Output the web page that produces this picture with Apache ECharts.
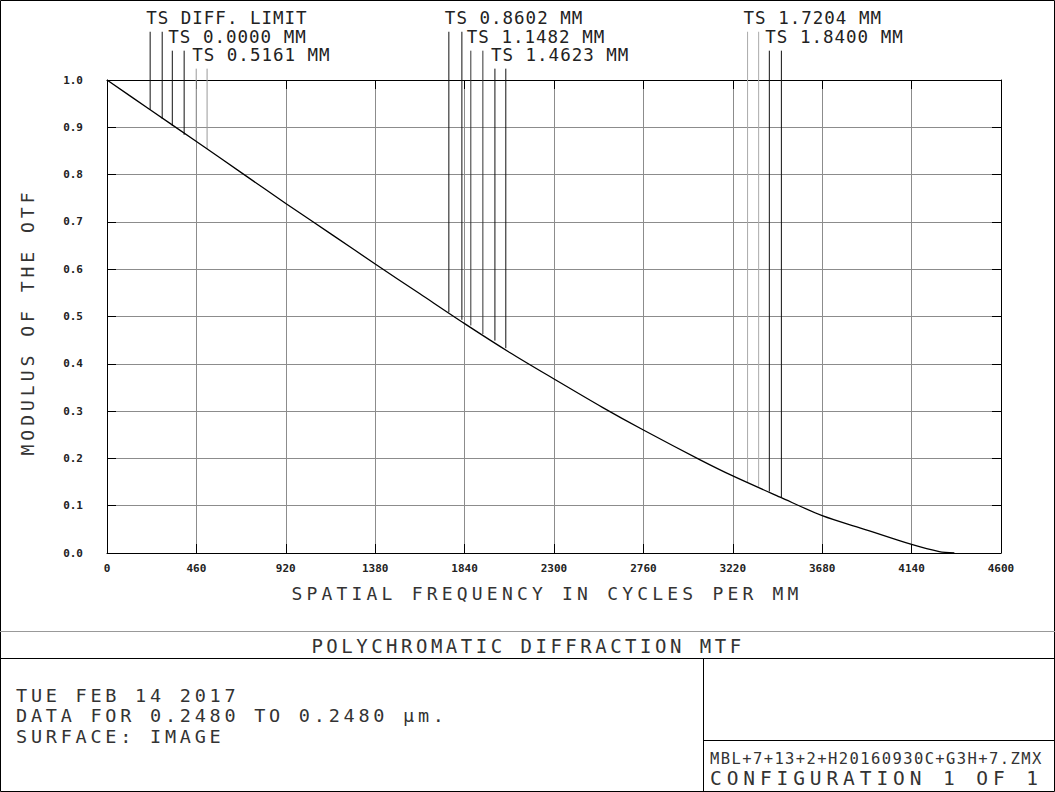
<!DOCTYPE html>
<html>
<head>
<meta charset="utf-8">
<script src="https://cdn.jsdelivr.net/npm/echarts@6/dist/echarts.min.js"></script>
<style>
html, body { margin: 0; padding: 0; background: #fff; }
#chart { width: 1055px; height: 792px; }
</style>
</head>
<body>
<div id="chart"></div>
<script>
// ---- data ----
const freq = [0, 222, 460, 702, 920, 1165, 1380, 1610, 1840, 2072, 2300, 2549, 2760, 3052, 3220, 3464, 3680, 3906, 4140, 4282, 4360];
const mtf  = [1.000, 0.937, 0.870, 0.801, 0.739, 0.671, 0.611, 0.548, 0.485, 0.424, 0.368, 0.308, 0.260, 0.197, 0.163, 0.118, 0.079, 0.049, 0.018, 0.003, 0.000];

const fieldLabels = ['TS DIFF. LIMIT', 'TS 0.0000 MM', 'TS 0.5161 MM', 'TS 0.8602 MM', 'TS 1.1482 MM', 'TS 1.4623 MM', 'TS 1.7204 MM', 'TS 1.8400 MM'];
const fieldX    = [[222, 284], [336, 397], [459, 515], [1759, 1826], [1872, 1934], [1996, 2052], [3296, 3353], [3408, 3470]];
const fieldTop  = [1.102, 1.062, 1.024, 1.102, 1.062, 1.024, 1.102, 1.062];
const fieldEnd  = [[0.937, 0.918], [0.903, 0.884], [0.870, 0.854], [0.509, 0.493], [0.481, 0.463], [0.449, 0.433], [0.149, 0.140], [0.130, 0.118]];
const fieldColor = ['#111', '#111', '#999', '#111', '#333', '#111', '#aaa', '#111'];

const xMin = 0, xMax = 4600, xStep = 460;
const yMin = 0, yMax = 1, yStep = 0.1;

const title = 'POLYCHROMATIC DIFFRACTION MTF';
const xTitle = 'SPATIAL FREQUENCY IN CYCLES PER MM';
const yTitle = 'MODULUS OF THE OTF';
const infoLines = ['TUE FEB 14 2017', 'DATA FOR 0.2480 TO 0.2480 \u00b5m.', 'SURFACE: IMAGE'];
const fileName = 'MBL+7+13+2+H20160930C+G3H+7.ZMX';
const configText = 'CONFIGURATION 1 OF 1';

// ---- rendering ----
const FONT = '"DejaVu Sans Mono", monospace';
const dom = document.getElementById('chart');
const chart = echarts.init(dom, null, { renderer: 'svg', width: 1055, height: 792 });

const curveData = freq.map((f, i) => [f, mtf[i]]);
const series = [{
  type: 'line', data: curveData, showSymbol: false, smooth: 0.3, z: 5,
  lineStyle: { color: '#000', width: 1.3 }, silent: true
}];
fieldX.forEach((pair, i) => {
  pair.forEach((x, k) => {
    series.push({
      type: 'line', clip: false, showSymbol: false, silent: true, z: 4,
      data: [[x, fieldTop[i]], [x, fieldEnd[i][k]]],
      lineStyle: { color: fieldColor[i], width: 1 }
    });
  });
});

const tickStyle = { show: true, inside: true, length: 9, lineStyle: { color: '#000', width: 1 } };
const axisLine = { show: true, onZero: false, lineStyle: { color: '#000', width: 1 } };
const split = { show: true, lineStyle: { color: '#8c8c8c', width: 1 } };
const tickLabel = { color: '#222', fontFamily: FONT, fontWeight: 'bold', fontSize: 11 };

const option = {
  animation: false,
  backgroundColor: '#fff',
  grid: { left: 107, top: 80, width: 894, height: 473, containLabel: false },
  xAxis: [
    { type: 'value', min: xMin, max: xMax, interval: xStep, position: 'bottom',
      axisLine, axisTick: tickStyle, splitLine: split,
      axisLabel: Object.assign({ margin: 10, showMinLabel: true, showMaxLabel: true, formatter: v => String(Math.round(v)) }, tickLabel) },
    { type: 'value', min: xMin, max: xMax, interval: xStep, position: 'top',
      axisLine, axisTick: tickStyle, splitLine: { show: false }, axisLabel: { show: false } }
  ],
  yAxis: [
    { type: 'value', min: yMin, max: yMax, interval: yStep, position: 'left',
      axisLine, axisTick: tickStyle, splitLine: split,
      axisLabel: Object.assign({ margin: 24, formatter: v => v.toFixed(1) }, tickLabel) },
    { type: 'value', min: yMin, max: yMax, interval: yStep, position: 'right',
      axisLine, axisTick: tickStyle, splitLine: { show: false }, axisLabel: { show: false } }
  ],
  series
};
chart.setOption(option);

// spacing to mimic the wide plotter font
const spacing = {};
spacing[title] = 3.5;
spacing[xTitle] = 4.2;
spacing[yTitle] = 4.0;
infoLines.forEach(t => spacing[t] = 3.75);
spacing[fileName] = 1.4;
spacing[configText] = 4.9;
fieldLabels.forEach(t => spacing[t] = 1.0);

function txt(text, x, y, size, opts) {
  return Object.assign({
    type: 'text', x, y, silent: true,
    style: { text, fill: '#333', font: size + 'px ' + FONT, textAlign: 'left', textVerticalAlign: 'middle' }
  }, opts || {});
}
function line(x1, y1, x2, y2, color) {
  return { type: 'line', silent: true, shape: { x1, y1, x2, y2 }, style: { stroke: color, lineWidth: 1 } };
}

const graphics = [
  { type: 'rect', silent: true, shape: { x: 0.5, y: 0.5, width: 1054, height: 791 }, style: { fill: null, stroke: '#000', lineWidth: 1 } },
  line(0, 631.5, 1055, 631.5, '#999'),
  line(0, 658.5, 1055, 658.5, '#000'),
  line(703.5, 658.5, 703.5, 792, '#000'),
  line(703.5, 740.5, 1055, 740.5, '#000'),
  txt(title, 528, 646, 19),
  txt(xTitle, 547, 593, 18),
  Object.assign(txt(yTitle, 27, 322, 18), { rotation: Math.PI / 2 }),
  txt(infoLines[0], 16, 695, 18.5),
  txt(infoLines[1], 16, 715.5, 18.5),
  txt(infoLines[2], 16, 736, 18.5),
  txt(fileName, 710, 758.5, 15.5),
  txt(configText, 710, 778, 19.5)
];
graphics[5].style.textAlign = 'center';
graphics[6].style.textAlign = 'center';
graphics[7].style.textAlign = 'center';

fieldLabels.forEach((lab, i) => {
  const px = chart.convertToPixel({ xAxisIndex: 0 }, fieldX[i][0]);
  const py = chart.convertToPixel({ yAxisIndex: 0 }, fieldTop[i]);
  const g = txt(lab, px - 4, py - 14, 17.5);
  g.style.fill = '#222';
  graphics.push(g);
});

chart.setOption({ graphic: graphics });

function applySpacing() {
  dom.querySelectorAll('text').forEach(t => {
    const s = spacing[t.textContent];
    if (s != null) t.style.letterSpacing = s + 'px';
  });
}
applySpacing();
chart.on('finished', applySpacing);
chart.on('rendered', applySpacing);
</script>
</body>
</html>
